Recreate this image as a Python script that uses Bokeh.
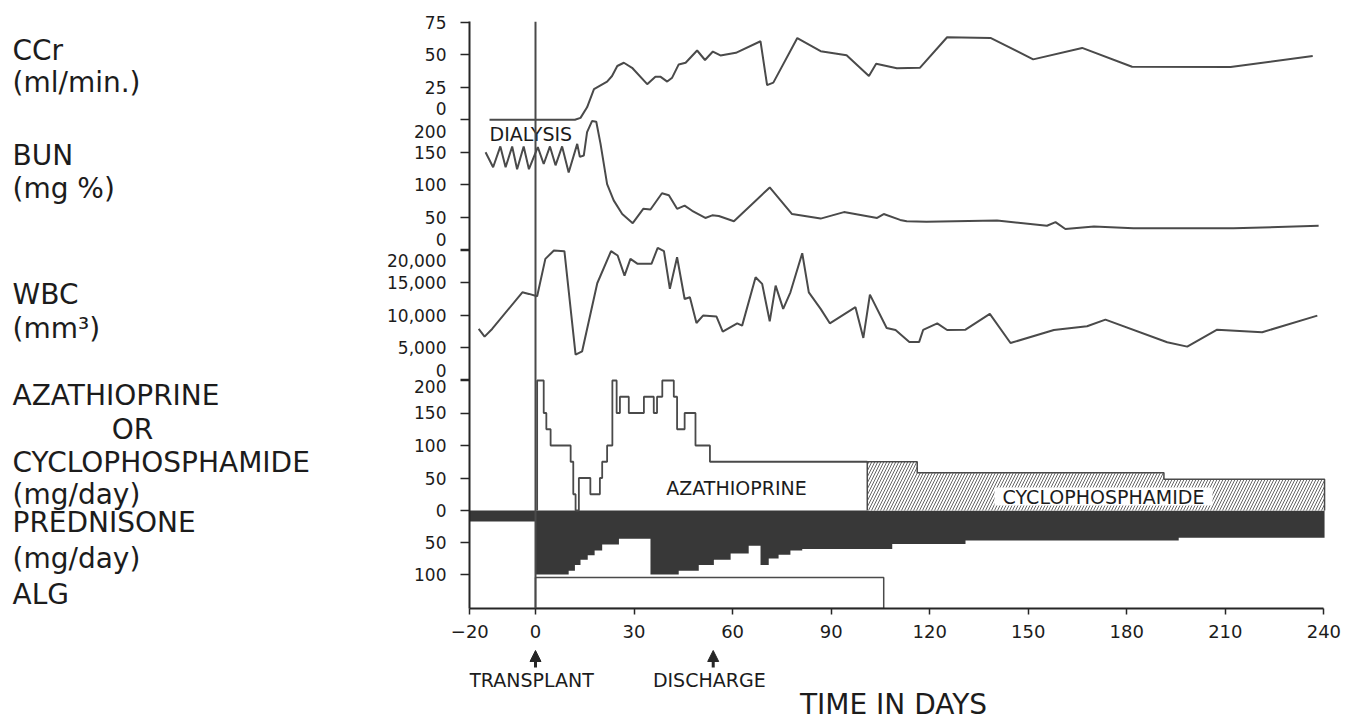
from bokeh.plotting import figure
from bokeh.layouts import row, column
from bokeh.models import Range1d, FixedTicker, Arrow, NormalHead, Span, ColumnDataSource
from bokeh.core.properties import value
from bokeh.embed import file_html
from bokeh.resources import INLINE

# ---------------- data ----------------
ccr_day = [-14, 12, 13.7, 15.7, 17.8, 21.8, 23.3, 24.9, 26.9, 29.4, 34.0, 36.5, 38.0, 40.1, 41.6,
           43.6, 45.7, 49.2, 51.6, 54.0, 56.3, 61.0, 68.5, 70.5, 72.4, 79.7, 86.8, 94.7, 101.5,
           103.7, 110.0, 117.0, 125.3, 138.5, 151.5, 166.4, 181.6, 211.6, 236.6]
ccr_val = [0, 0, 1.5, 9.6, 23.6, 29.4, 33.7, 41.4, 43.9, 40.0, 27.4, 33.2, 33.2, 29.4, 32.4,
           42.6, 43.9, 53.3, 46.0, 52.5, 49.5, 51.5, 60.4, 26.7, 28.6, 62.9, 52.8, 49.7, 33.7,
           43.1, 39.6, 40.0, 63.5, 63.0, 46.5, 55.3, 40.8, 40.6, 49.0]

bun_day = [-15.2, -12.9, -10.7, -9.1, -7.1, -5.6, -3.6, -2.0, 0.7, 2.5, 4.4, 6.1, 8.1, 10.1, 12.7,
           13.5, 14.7, 15.7, 17.2, 18.5, 19.8, 21.8, 23.8, 26.4, 29.6, 32.8, 35.0, 38.5, 40.6, 43.1,
           45.4, 47.7, 51.7, 53.8, 55.8, 60.4, 71.3, 78.1, 86.8, 93.9, 104.0, 106.0, 111.0, 113.0,
           119.0, 140.5, 155.7, 158.3, 161.3, 170.0, 182.0, 212.5, 238.4]
bun_val = [150, 127, 159, 127, 159, 124, 159, 124, 158, 132, 159, 130, 159, 119, 163,
           143, 145, 181, 198, 197, 163, 101, 76, 55, 41, 63, 62, 87, 84, 63,
           68, 60, 49, 53, 52, 44, 96, 55, 48, 58, 49, 55, 46, 44,
           43, 45, 37, 42.5, 32, 36, 33, 33, 37]

wbc_day = [-17.3, -15.5, -13.2, -4.0, -2.0, 0.5, 3.0, 5.6, 8.8, 12.2, 14.2, 18.8, 23.0, 25.0, 27.1,
           28.9, 31.1, 35.3, 37.2, 39.1, 40.9, 43.1, 45.4, 47.0, 49.0, 51.0, 55.1, 57.0, 61.4, 62.9,
           67.0, 69.0, 71.3, 73.1, 75.4, 77.6, 81.2, 83.2, 86.8, 89.6, 97.4, 99.8, 101.8, 106.9,
           109.6, 113.8, 116.8, 118.0, 122.3, 125.3, 130.9, 138.3, 144.6, 157.8, 167.9, 173.5,
           192.3, 198.4, 207.5, 221.2, 238.0]
wbc_val = [7860, 6670, 7860, 13530, 13280, 12920, 18700, 20000, 19900, 3880, 4390, 14930, 19900, 19220, 16120,
           18700, 17930, 17930, 20410, 19900, 14060, 18960, 12500, 12760, 8780, 9920, 9770, 7440, 8730, 8370,
           15860, 14830, 9040, 14570, 10960, 13530, 19580, 13530, 10960, 8730, 11220, 6460, 13170, 8000,
           7700, 5850, 5850, 7700, 8730, 7700, 7750, 10180, 5680, 7700, 8270, 9300,
           5790, 5120, 7750, 7340, 9920]

aza_day = [0.5, 2.5, 3.3, 4.6, 10.7, 11.5, 12.2, 13.2, 16.7, 19.6, 20.3, 21.8, 23.4, 24.7, 25.7,
           28.4, 33.0, 36.0, 37.0, 38.6, 42.1, 43.1, 45.4, 48.7, 53.1, 101.0]
aza_val = [200, 150, 125, 100, 75, 25, 0, 50, 25, 50, 75, 100, 200, 150, 175,
           150, 175, 150, 175, 200, 175, 125, 150, 100, 75, 75]

cyc_day = [101.0, 116.2, 191.3, 240.2]
cyc_val = [75, 58, 48, 48]

pred_day = [-20, 0, 10.1, 12.0, 13.7, 15.9, 18.0, 20.3, 25.4, 35.0, 43.6, 49.7, 54.3, 59.4, 64.9,
            68.5, 71.0, 74.0, 77.6, 81.2, 108.6, 130.9, 195.8, 240.2]
pred_val = [17, 100, 94, 85, 77, 70, 62.5, 53, 44, 100, 94, 85, 77, 67, 55,
            85, 75, 69, 62.5, 60, 52.5, 47, 42.5, 42.5]

alg_start = [0]
alg_end = [106]
alg_on = [1]

event_day = [0, 54.1]
event_labels = ["TRANSPLANT", "DISCHARGE"]

x_ticks = [-20, 0, 30, 60, 90, 120, 150, 180, 210, 240]
x_tick_labels = ["\u221220", "0", "30", "60", "90", "120", "150", "180", "210", "240"]

ccr_ticks = [75, 50, 25, 0]
ccr_tick_labels = ["75", "50", "25", "0"]
bun_ticks = [200, 150, 100, 50, 0]
bun_tick_labels = ["200", "150", "100", "50", "0"]
wbc_ticks = [20000, 15000, 10000, 5000, 0]
wbc_tick_labels = ["20,000", "15,000", "10,000", "5,000", "0"]
aza_ticks = [200, 150, 100, 50, 0]
aza_tick_labels = ["200", "150", "100", "50", "0"]
pred_ticks = [50, 100]
pred_tick_labels = ["50", "100"]

row_labels = ["CCr", "(ml/min.)", "BUN", "(mg %)", "WBC", "(mm\u00b3)", "AZATHIOPRINE", "OR",
              "CYCLOPHOSPHAMIDE", "(mg/day)", "PREDNISONE", "(mg/day)", "ALG"]

# ---------------- layout / style ----------------
FONT = "DejaVu Sans"
TXT = "#1c1c1c"
LC = "#4a4a4a"
AX = "#262626"
DARK = "#383838"

TOTAL_H = 720
LEFT_W = 380           # width of the row-label strip
MAIN_W = 970
MAIN_H = 648
TOP, BOTTOM = 21.0, 608.0            # page y of frame top / x-axis line
X0_PAGE, PX_PER_DAY = 535.0, 3.285   # page x of day 0, pixels per day
FRAME_LEFT = 469.0

# panel: (page y of zero, pixels per unit, direction)
PANEL = {
    "ccr": (119.3, 1.30, 1),
    "bun": (249.3, 0.65, 1),
    "wbc": (379.2, 32.3 / 5000, 1),
    "aza": (510.0, 0.65, 1),
    "pred": (510.0, 0.64, -1),
    "alg": (608.0, 31.0, 1),
}


def page_y(name, v):
    z, s, d = PANEL[name]
    return z - d * s * v


def make_range(name):
    z, s, d = PANEL[name]
    return Range1d(start=(z - BOTTOM) / (d * s), end=(z - TOP) / (d * s))


def day_at(px):
    return (px - X0_PAGE) / PX_PER_DAY


border_left = int(FRAME_LEFT - LEFT_W)
frame_w = 861
border_right = MAIN_W - border_left - frame_w
x_start = day_at(FRAME_LEFT)
xr = Range1d(x_start, x_start + frame_w / PX_PER_DAY)

p = figure(width=MAIN_W, height=MAIN_H, x_range=xr, y_range=Range1d(-BOTTOM, -TOP),
           output_backend="svg", toolbar_location=None,
           min_border_left=border_left, min_border_right=border_right,
           min_border_top=int(TOP), min_border_bottom=int(MAIN_H - BOTTOM))
p.outline_line_color = None
p.xgrid.visible = False
p.ygrid.visible = False

for k in PANEL:
    p.extra_y_ranges[k] = make_range(k)

# ---------------- x axis ----------------
xa = p.xaxis[0]
xa.ticker = FixedTicker(ticks=x_ticks)
xa.major_label_overrides = dict(zip(x_ticks, x_tick_labels))
xa.bounds = (-20, 240)
xa.axis_line_color = AX
xa.axis_line_width = 2
xa.major_tick_line_color = AX
xa.major_tick_line_width = 1.5
xa.major_tick_out = 6
xa.major_tick_in = 0
xa.minor_tick_line_color = None
xa.major_label_standoff = 10
xa.major_label_text_font = FONT
xa.major_label_text_font_size = "18px"
xa.major_label_text_color = TXT

# ---------------- y axis (stacked panels) ----------------
label_shift = {("ccr", 0): -11, ("bun", 200): 12, ("bun", 0): -10,
               ("wbc", 20000): 10, ("wbc", 0): -9, ("aza", 200): 6}
major, minor, overrides = [], [], {}
for name, ticks, labels in [("ccr", ccr_ticks, ccr_tick_labels), ("bun", bun_ticks, bun_tick_labels),
                            ("wbc", wbc_ticks, wbc_tick_labels), ("aza", aza_ticks, aza_tick_labels),
                            ("pred", pred_ticks, pred_tick_labels)]:
    for v, lab in zip(ticks, labels):
        py = page_y(name, v)
        minor.append(-py)
        pos = -int(round(py + label_shift.get((name, v), 0)))
        major.append(pos)
        overrides[pos] = lab

ya = p.yaxis[0]
ya.ticker = FixedTicker(ticks=major, minor_ticks=minor)
ya.major_label_overrides = overrides
ya.bounds = (-BOTTOM, -TOP)
ya.axis_line_color = AX
ya.axis_line_width = 2
ya.major_tick_out = 0
ya.major_tick_in = 0
ya.minor_tick_out = 9
ya.minor_tick_in = 0
ya.minor_tick_line_color = AX
ya.minor_tick_line_width = 1.5
ya.major_label_standoff = 14
ya.major_label_text_font = FONT
ya.major_label_text_font_size = "17px"
ya.major_label_text_color = TXT

# ---------------- glyphs ----------------
p.varea_step(x=pred_day, y1=0, y2=pred_val, step_mode="after", fill_color=DARK, y_range_name="pred")

p.quad(left=alg_start, right=alg_end, bottom=0, top=alg_on, fill_color="white",
       line_color=LC, line_width=1.5, y_range_name="alg")

p.varea_step(x=cyc_day, y1=0, y2=cyc_val, step_mode="after", fill_color="white",
             hatch_pattern="/", hatch_color="#666666", hatch_scale=6, hatch_weight=1,
             y_range_name="aza")
p.step(x=[cyc_day[0]] + cyc_day + [cyc_day[-1]], y=[0] + cyc_val + [0], mode="after",
       line_color=LC, line_width=1.5, y_range_name="aza")

p.step(x=[aza_day[0]] + aza_day, y=[0] + aza_val, mode="after",
       line_color=LC, line_width=1.8, y_range_name="aza")

p.line(ccr_day, ccr_val, line_color=LC, line_width=2, y_range_name="ccr")
p.line(bun_day, bun_val, line_color=LC, line_width=2, y_range_name="bun")
p.line(wbc_day, wbc_val, line_color=LC, line_width=2, y_range_name="wbc")

p.add_layout(Span(location=0, dimension="height", line_color=LC, line_width=2))


def txt(fig, text, x, y, size, align="left", **kw):
    fig.text(x=[x], y=[y], text=[text], text_font=value(FONT), text_font_size=size,
             text_color=TXT, text_align=align, text_baseline="middle", **kw)


txt(p, "DIALYSIS", day_at(489), -133, "19px")
txt(p, "AZATHIOPRINE", day_at(736), -487, "19px", align="center")
# white patch behind the cyclophosphamide caption
p.rect(x=[day_at(1103)], y=[-496], width=218 / PX_PER_DAY, height=18, fill_color="white", line_color=None)
txt(p, "CYCLOPHOSPHAMIDE", day_at(1103), -496, "19px", align="center")

# ---------------- bottom strip: events and axis title ----------------
b = figure(width=MAIN_W, height=TOTAL_H - MAIN_H, x_range=xr,
           y_range=Range1d(-TOTAL_H, -MAIN_H), output_backend="svg", toolbar_location=None,
           min_border_left=border_left, min_border_right=border_right,
           min_border_top=0, min_border_bottom=0, x_axis_type=None, y_axis_type=None)
b.outline_line_color = None
b.xgrid.visible = False
b.ygrid.visible = False
for d, lab in zip(event_day, event_labels):
    b.add_layout(Arrow(end=NormalHead(size=11, fill_color=AX, line_color=AX),
                       x_start=d, y_start=-667, x_end=d, y_end=-650,
                       line_color=AX, line_width=3))
    txt(b, lab, d - 1.2, -679, "19px", align="center")
txt(b, "TIME IN DAYS", day_at(893), -704, "28px", align="center")

# ---------------- left strip: row labels ----------------
row_y = [50, 82, 155, 188, 294, 328, 395, 429, 462, 494, 522, 558, 594]
L = figure(width=LEFT_W, height=TOTAL_H, x_range=Range1d(0, LEFT_W), y_range=Range1d(-TOTAL_H, 0),
           output_backend="svg", toolbar_location=None, min_border=0,
           x_axis_type=None, y_axis_type=None)
L.outline_line_color = None
L.xgrid.visible = False
L.ygrid.visible = False
src = ColumnDataSource(dict(x=[132 if t == "OR" else 12 for t in row_labels],
                            y=[-v for v in row_y], text=row_labels,
                            align=["center" if t == "OR" else "left" for t in row_labels]))
L.text(x="x", y="y", text="text", source=src, text_font=value(FONT), text_font_size="28px",
       text_color=TXT, text_align="align", text_baseline="middle")

layout = row(L, column(p, b))
open("out.html", "w").write(file_html(layout, INLINE))
